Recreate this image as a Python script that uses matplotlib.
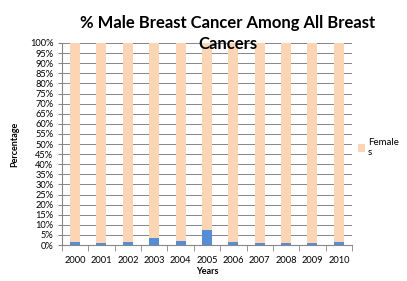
import matplotlib.pyplot as plt
import numpy as np

years = ['2000', '2001', '2002', '2003', '2004', '2005', '2006', '2007', '2008', '2009', '2010']
male_pct = [1.5, 1.2, 1.5, 3.6, 2.1, 7.3, 1.4, 1.1, 0.9, 1.1, 1.5]
female_pct = [100 - m for m in male_pct]

plt.rcParams['font.family'] = ['Lato', 'DejaVu Sans']

fig = plt.figure(figsize=(4.07, 2.81), dpi=100)
ax = fig.add_axes([0.152, 0.128, 0.713, 0.719])

pos = np.arange(len(years))
ax.bar(pos, male_pct, width=0.38, color='#558ed5', zorder=3)
ax.bar(pos, female_pct, bottom=male_pct, width=0.38, color='#fcd5b5', zorder=3,
       label='Female\ns')

ax.set_xlim(-0.5, len(years) - 0.5)
ax.set_ylim(0, 100)
ax.set_yticks(np.arange(0, 101, 5))
ax.set_yticklabels(['%d%%' % v for v in range(0, 101, 5)], fontsize=6.7)
ax.set_xticks(pos)
ax.set_xticklabels(years, fontsize=6.7)
ax.set_xticks(np.arange(-0.5, len(years), 1), minor=True)
ax.tick_params(axis='x', which='major', length=0, pad=8)
ax.tick_params(axis='x', which='minor', length=4, color='#868686')
ax.tick_params(axis='y', length=3, color='#868686', pad=3)

ax.grid(axis='y', color='#868686', linewidth=0.7, zorder=0)
for s in ['top', 'right']:
    ax.spines[s].set_visible(False)
ax.spines['left'].set_color('#868686')
ax.spines['bottom'].set_color('#868686')

ax.set_xlabel('Years', fontsize=6.5, fontweight='bold', labelpad=1)
ax.set_ylabel('Percentage', fontsize=6.5, fontweight='bold', labelpad=8)

fig.text(0.56, 0.88, '% Male Breast Cancer Among All Breast\nCancers', ha='center', va='center',
         fontsize=12, fontweight='bold', linespacing=1.4)

ax.legend(loc='upper left', bbox_to_anchor=(0.88, 0.51), bbox_transform=fig.transFigure,
          frameon=False, fontsize=7, handlelength=0.7, handleheight=0.9, handletextpad=0.3,
          borderaxespad=0, borderpad=0, labelspacing=0)

plt.savefig('out.png', dpi=100)
